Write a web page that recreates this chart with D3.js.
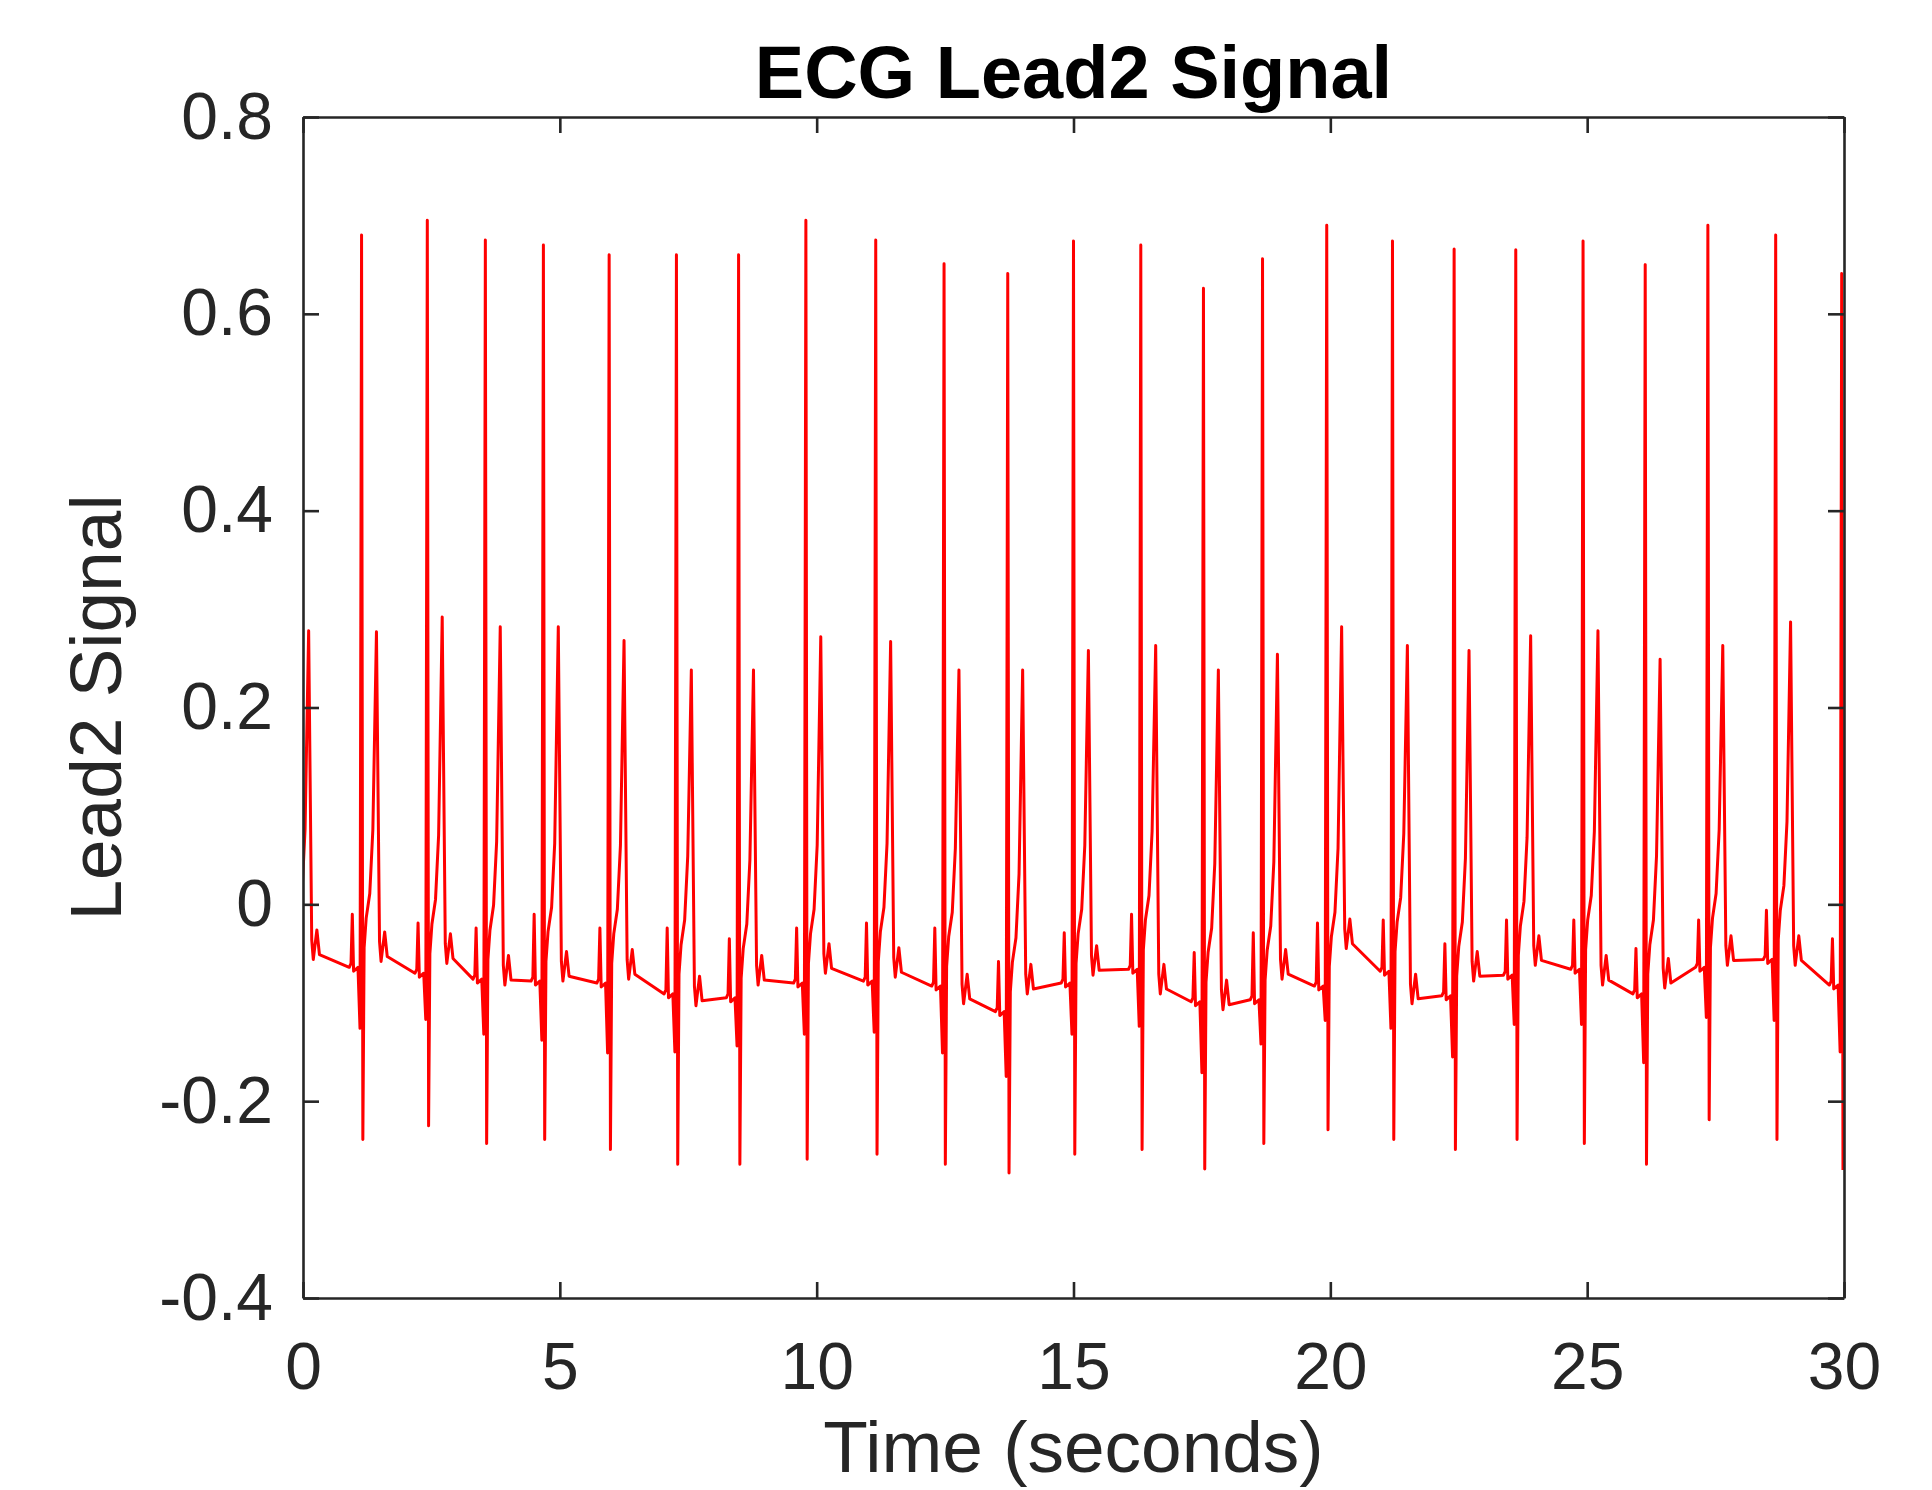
<!DOCTYPE html>
<html>
<head>
<meta charset="utf-8">
<script src="https://cdn.jsdelivr.net/npm/d3@7/dist/d3.min.js"></script>
<style>
  html, body { margin: 0; padding: 0; background: #fff; }
  svg { display: block; }
  text { font-family: "Liberation Sans", Arial, Helvetica, sans-serif; }
</style>
</head>
<body>
<svg id="chart" width="1932" height="1490"></svg>
<script>
// ---- data (one entry per heartbeat; index 0 is the partial beat before t=0) ----
const rTimes   = [-0.18, 1.14, 2.42, 3.55, 4.68, 5.96, 7.27, 8.48, 9.79, 11.15, 12.48, 13.72, 15.00, 16.31, 17.53, 18.68, 19.93, 21.21, 22.41, 23.61, 24.92, 26.13, 27.35, 28.67, 29.955];
const rPeak    = [0.68, 0.68, 0.695, 0.675, 0.67, 0.66, 0.66, 0.66, 0.695, 0.675, 0.651, 0.641, 0.674, 0.67, 0.626, 0.656, 0.69, 0.674, 0.666, 0.665, 0.674, 0.65, 0.69, 0.68, 0.641];
const sTrough  = [-0.24, -0.239, -0.225, -0.243, -0.239, -0.249, -0.264, -0.264, -0.259, -0.254, -0.264, -0.273, -0.254, -0.249, -0.269, -0.243, -0.229, -0.239, -0.249, -0.239, -0.243, -0.264, -0.219, -0.239, -0.27];
const qDip     = [-0.12, -0.126, -0.117, -0.132, -0.138, -0.151, -0.150, -0.144, -0.132, -0.130, -0.151, -0.175, -0.132, -0.124, -0.171, -0.142, -0.118, -0.126, -0.155, -0.122, -0.122, -0.161, -0.115, -0.118, -0.150];
const pWave    = [-0.01, -0.010, -0.019, -0.024, -0.010, -0.024, -0.024, -0.035, -0.024, -0.019, -0.024, -0.058, -0.029, -0.010, -0.049, -0.029, -0.019, -0.016, -0.040, -0.016, -0.016, -0.045, -0.016, -0.006, -0.035];
const baseline = [-0.064, -0.064, -0.070, -0.076, -0.078, -0.080, -0.091, -0.095, -0.080, -0.078, -0.083, -0.109, -0.080, -0.066, -0.099, -0.097, -0.083, -0.068, -0.093, -0.072, -0.066, -0.091, -0.064, -0.056, -0.082];
const tPeak    = [0.278, 0.277, 0.292, 0.282, 0.282, 0.268, 0.238, 0.238, 0.272, 0.267, 0.238, 0.238, 0.258, 0.263, 0.238, 0.254, 0.282, 0.263, 0.258, 0.273, 0.278, 0.249, 0.263, 0.287, null];
const postT    = [-0.056, -0.058, -0.060, -0.082, -0.078, -0.076, -0.103, -0.082, -0.070, -0.074, -0.101, -0.091, -0.072, -0.091, -0.107, -0.076, -0.045, -0.101, -0.078, -0.062, -0.082, -0.085, -0.062, -0.062, null];

const xTicks = [0, 5, 10, 15, 20, 25, 30];
const yTicks = [-0.4, -0.2, 0, 0.2, 0.4, 0.6, 0.8];
const xDomain = [0, 30];
const yDomain = [-0.4, 0.8];

const titleText = "ECG Lead2 Signal";
const xLabel = "Time (seconds)";
const yLabel = "Lead2 Signal";

// ---- build the trace from the beat values (key points of each beat, joined by straight lines) ----
const signal = [];
rTimes.forEach((r, i) => {
  const b = baseline[i];
  signal.push([r - 0.24, b]);
  signal.push([r - 0.205, b + 0.004]);
  signal.push([r - 0.18, pWave[i]]);
  signal.push([r - 0.155, b - 0.004]);
  signal.push([r - 0.07, b]);
  signal.push([r - 0.03, qDip[i]]);
  signal.push([r, rPeak[i]]);
  signal.push([r + 0.025, sTrough[i]]);
  signal.push([r + 0.05, b + 0.02]);
  signal.push([r + 0.09, b + 0.05]);
  signal.push([r + 0.16, b + 0.075]);
  signal.push([r + 0.22, b + 0.14]);
  if (tPeak[i] !== null) {
    const p = postT[i];
    signal.push([r + 0.29, tPeak[i]]);
    signal.push([r + 0.35, p + 0.02]);
    signal.push([r + 0.38, p]);
    signal.push([r + 0.45, p + 0.03]);
    signal.push([r + 0.50, p + 0.005]);
  }
});
const trace = signal.filter(d => d[0] <= 30.0);

// ---- layout ----
const svg = d3.select("#chart");
const W = 1932, H = 1490;
const plot = { left: 303, right: 1844, top: 117, bottom: 1298 };
const axisColor = "#262626";

svg.append("rect").attr("width", W).attr("height", H).attr("fill", "#fff");

const x = d3.scaleLinear().domain(xDomain).range([plot.left, plot.right]);
const y = d3.scaleLinear().domain(yDomain).range([plot.bottom, plot.top]);

svg.append("defs").append("clipPath").attr("id", "plotClip")
  .append("rect")
  .attr("x", plot.left).attr("y", plot.top)
  .attr("width", plot.right - plot.left).attr("height", plot.bottom - plot.top);

// trace
const line = d3.line().x(d => x(d[0])).y(d => y(d[1]));
svg.append("path")
  .datum(trace)
  .attr("clip-path", "url(#plotClip)")
  .attr("fill", "none")
  .attr("stroke", "#ff0000")
  .attr("stroke-width", 3)
  .attr("stroke-linejoin", "round")
  .attr("d", line);

// axes
const tickLen = 16;
const fmtY = d => (Math.abs(d) < 1e-9 ? "0" : d.toFixed(1));

function styleAxis(g) {
  g.selectAll(".domain").attr("stroke", axisColor).attr("stroke-width", 2.6);
  g.selectAll(".tick line").attr("stroke", axisColor).attr("stroke-width", 2.6);
  g.selectAll(".tick text")
    .attr("fill", axisColor)
    .style("font-family", '"Liberation Sans", Arial, Helvetica, sans-serif')
    .style("font-size", "66px");
}

svg.append("g")
  .attr("transform", `translate(0,${plot.bottom})`)
  .call(d3.axisBottom(x).tickValues(xTicks).tickFormat(d3.format("d"))
        .tickSizeInner(-tickLen).tickSizeOuter(0).tickPadding(44))
  .call(styleAxis);

svg.append("g")
  .attr("transform", `translate(0,${plot.top})`)
  .call(d3.axisTop(x).tickValues(xTicks).tickFormat("")
        .tickSizeInner(-tickLen).tickSizeOuter(0))
  .call(styleAxis);

svg.append("g")
  .attr("transform", `translate(${plot.left},0)`)
  .call(d3.axisLeft(y).tickValues(yTicks).tickFormat(fmtY)
        .tickSizeInner(-tickLen).tickSizeOuter(0).tickPadding(30))
  .call(styleAxis);

svg.append("g")
  .attr("transform", `translate(${plot.right},0)`)
  .call(d3.axisRight(y).tickValues(yTicks).tickFormat("")
        .tickSizeInner(-tickLen).tickSizeOuter(0))
  .call(styleAxis);

svg.selectAll(".domain").attr("fill", "none");

// title and labels
svg.append("text")
  .attr("x", (plot.left + plot.right) / 2)
  .attr("y", 98)
  .attr("text-anchor", "middle")
  .attr("fill", "#000")
  .style("font-size", "74px")
  .style("font-weight", "bold")
  .text(titleText);

svg.append("text")
  .attr("x", (plot.left + plot.right) / 2)
  .attr("y", 1472)
  .attr("text-anchor", "middle")
  .attr("fill", axisColor)
  .style("font-size", "73px")
  .text(xLabel);

svg.append("text")
  .attr("transform", `translate(121,${(plot.top + plot.bottom) / 2}) rotate(-90)`)
  .attr("text-anchor", "middle")
  .attr("fill", axisColor)
  .style("font-size", "73px")
  .text(yLabel);
</script>
</body>
</html>
